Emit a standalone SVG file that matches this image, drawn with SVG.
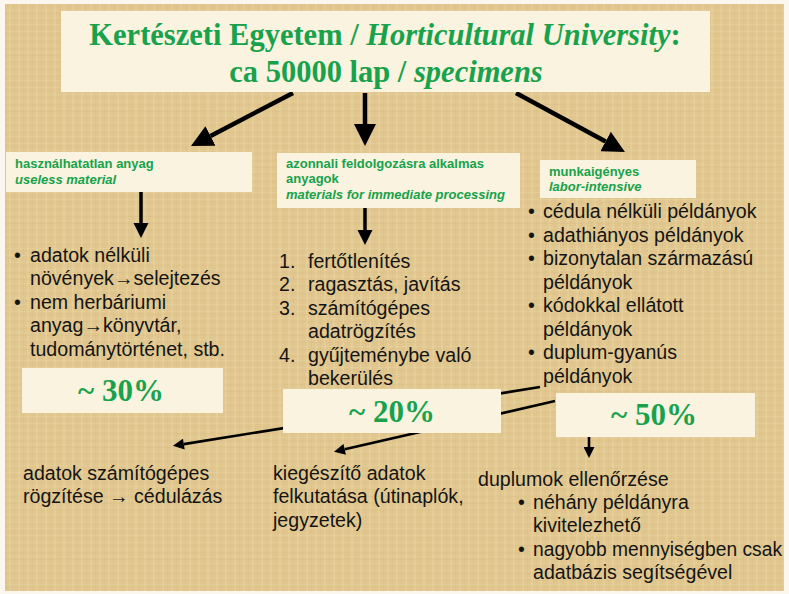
<svg xmlns="http://www.w3.org/2000/svg" width="789" height="594" viewBox="0 0 789 594">
<defs>
  <pattern id="weave" width="9" height="7" patternUnits="userSpaceOnUse">
    <rect width="9" height="7" fill="#E1C78F"/>
    <rect x="0" y="0" width="2" height="7" fill="#EAD7A6" opacity="0.35"/>
    <rect x="5" y="0" width="1" height="7" fill="#D4B97F" opacity="0.25"/>
    <rect x="0" y="3" width="9" height="1" fill="#ECDAAB" opacity="0.3"/>
    <rect x="0" y="6" width="9" height="1" fill="#D2B67C" opacity="0.2"/>
  </pattern>
  <marker id="headL" markerUnits="userSpaceOnUse" markerWidth="22" markerHeight="22" viewBox="0 0 10 10" refX="0" refY="5" orient="auto">
    <path d="M0,0 L10,5 L0,10 z" fill="#000"/>
  </marker>
  <marker id="headM" markerUnits="userSpaceOnUse" markerWidth="15" markerHeight="16" viewBox="0 0 10 10" refX="0" refY="5" orient="auto">
    <path d="M0,0 L10,5 L0,10 z" fill="#000"/>
  </marker>
  <marker id="headS" markerUnits="userSpaceOnUse" markerWidth="12" markerHeight="11" viewBox="0 0 10 10" refX="0" refY="5" orient="auto">
    <path d="M0,0 L10,5 L0,10 z" fill="#000"/>
  </marker>
  <style>
    .box { fill: #F9F3E0; }
    .title { font-family: "Liberation Serif", "Times New Roman", serif; font-weight: bold; font-size: 30.5px; fill: #17A24B; }
    .pct { font-family: "Liberation Serif", "Times New Roman", serif; font-weight: bold; font-size: 31px; fill: #17A24B; }
    .hdr { font-family: "Liberation Sans", Arial, sans-serif; font-weight: bold; font-size: 13px; fill: #17A24B; }
    .body { font-family: "Liberation Sans", Arial, sans-serif; font-size: 19.6px; fill: #141414; }
    .it { font-style: italic; }
    .big { stroke: #000; stroke-width: 4.5; fill: none; }
    .mid { stroke: #000; stroke-width: 3.5; fill: none; }
    .thin { stroke: #000; stroke-width: 2.6; fill: none; }
  </style>
</defs>

<rect x="0" y="0" width="789" height="594" fill="#FBF7EE"/>
<rect x="5" y="4" width="779" height="587" fill="url(#weave)"/>

<g id="connectors">
  <line class="big" x1="293" y1="93" x2="210.5" y2="135.9" marker-end="url(#headL)"/>
  <line class="big" x1="365" y1="93" x2="365" y2="124" marker-end="url(#headL)"/>
  <line class="big" x1="516" y1="93" x2="605.6" y2="141.5" marker-end="url(#headL)"/>
  <line class="mid" x1="141" y1="192" x2="141" y2="223" marker-end="url(#headM)"/>
  <line class="mid" x1="365" y1="208" x2="365" y2="230" marker-end="url(#headM)"/>
  <line class="thin" x1="540" y1="387" x2="183.8" y2="444.1" marker-end="url(#headS)"/>
  <line class="thin" x1="555" y1="401" x2="344.7" y2="449.3" marker-end="url(#headS)"/>
  <line class="thin" x1="589" y1="437" x2="589" y2="447" marker-end="url(#headS)"/>
</g>

<g id="title">
  <rect class="box" x="61" y="11" width="649" height="81"/>
  <text class="title" x="385" y="45" text-anchor="middle">Kertészeti Egyetem / <tspan class="it">Horticultural University</tspan>:</text>
  <text class="title" x="386" y="82" text-anchor="middle">ca 50000 lap / <tspan class="it">specimens</tspan></text>
</g>

<g id="useless">
  <rect class="box" x="6" y="152" width="246" height="40"/>
  <text class="hdr" x="15" y="168">használhatatlan anyag</text>
  <text class="hdr it" x="15" y="184">useless material</text>
</g>

<g id="immediate">
  <rect class="box" x="277" y="153" width="243" height="55"/>
  <text class="hdr" x="286" y="168">azonnali feldolgozásra alkalmas</text>
  <text class="hdr" x="286" y="183">anyagok</text>
  <text class="hdr it" x="286" y="199">materials for immediate processing</text>
</g>

<g id="labor">
  <rect class="box" x="540" y="160" width="156" height="38"/>
  <text class="hdr" x="549" y="176">munkaigényes</text>
  <text class="hdr it" x="549" y="191">labor-intensive</text>
</g>

<g id="useless-list">
  <text class="body" x="14" y="262">•</text>
  <text class="body" x="30" y="262">adatok nélküli</text>
  <text class="body" x="30" y="285">növények→selejtezés</text>
  <text class="body" x="14" y="309">•</text>
  <text class="body" x="30" y="309">nem herbáriumi</text>
  <text class="body" x="30" y="332">anyag→könyvtár,</text>
  <text class="body" x="30" y="356">tudománytörténet, stb.</text>
</g>

<g id="immediate-list">
  <text class="body" x="279" y="268">1.</text>
  <text class="body" x="308" y="268">fertőtlenítés</text>
  <text class="body" x="279" y="291">2.</text>
  <text class="body" x="308" y="291">ragasztás, javítás</text>
  <text class="body" x="279" y="315">3.</text>
  <text class="body" x="308" y="315">számítógépes</text>
  <text class="body" x="308" y="338">adatrögzítés</text>
  <text class="body" x="279" y="362">4.</text>
  <text class="body" x="308" y="362">gyűjteménybe való</text>
  <text class="body" x="308" y="385">bekerülés</text>
</g>

<g id="labor-list">
  <text class="body" x="528" y="218">•</text>
  <text class="body" x="543" y="218">cédula nélküli példányok</text>
  <text class="body" x="528" y="242">•</text>
  <text class="body" x="543" y="242">adathiányos példányok</text>
  <text class="body" x="528" y="265">•</text>
  <text class="body" x="543" y="265">bizonytalan származású</text>
  <text class="body" x="543" y="289">példányok</text>
  <text class="body" x="528" y="312">•</text>
  <text class="body" x="543" y="312">kódokkal ellátott</text>
  <text class="body" x="543" y="336">példányok</text>
  <text class="body" x="528" y="359">•</text>
  <text class="body" x="543" y="359">duplum-gyanús</text>
  <text class="body" x="543" y="383">példányok</text>
</g>

<g id="pct30">
  <rect class="box" x="22" y="368" width="201" height="45"/>
  <text class="pct" x="121" y="401" text-anchor="middle">~ 30%</text>
</g>

<g id="pct20">
  <rect class="box" x="283" y="389" width="218" height="44"/>
  <text class="pct" x="392" y="422" text-anchor="middle">~ 20%</text>
</g>

<g id="pct50">
  <rect class="box" x="556" y="393" width="199" height="44"/>
  <text class="pct" x="654" y="425" text-anchor="middle">~ 50%</text>
</g>

<g id="cedulazas">
  <text class="body" x="23" y="480">adatok számítógépes</text>
  <text class="body" x="23" y="503">rögzítése → cédulázás</text>
</g>

<g id="kiegeszito">
  <text class="body" x="273" y="480">kiegészítő adatok</text>
  <text class="body" x="273" y="503">felkutatása (útinaplók,</text>
  <text class="body" x="273" y="527">jegyzetek)</text>
</g>

<g id="duplumok">
  <text class="body" x="478" y="486">duplumok ellenőrzése</text>
  <text class="body" x="518" y="509">•</text>
  <text class="body" x="533" y="509">néhány példányra</text>
  <text class="body" x="533" y="532">kivitelezhető</text>
  <text class="body" x="518" y="556">•</text>
  <text class="body" x="533" y="556" textLength="249" lengthAdjust="spacingAndGlyphs">nagyobb mennyiségben csak</text>
  <text class="body" x="533" y="579">adatbázis segítségével</text>
</g>
</svg>
